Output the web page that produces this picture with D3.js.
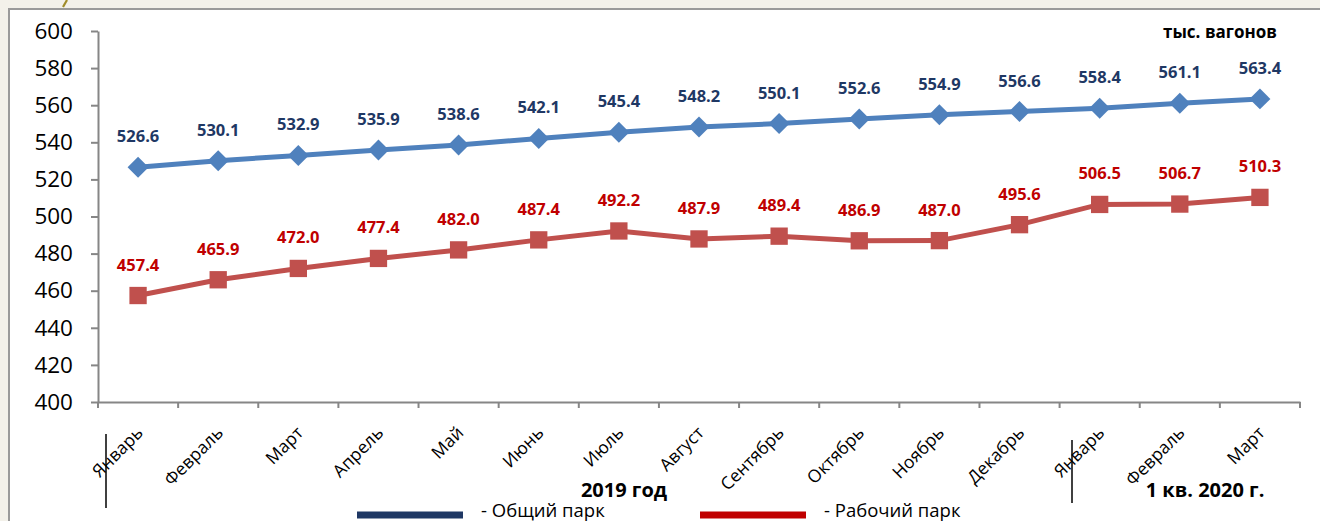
<!DOCTYPE html>
<html lang="ru">
<head>
<meta charset="UTF-8">
<title>Парк вагонов</title>
<script src="https://d3js.org/d3.v7.min.js"></script>
<style>
  body { margin: 0; background: #f3f1ea; }
  svg { display: block; }
</style>
</head>
<body>
<svg></svg>
<script>
  // подписи месяцев по оси X
  const months = ['Январь', 'Февраль', 'Март', 'Апрель', 'Май', 'Июнь', 'Июль', 'Август',
    'Сентябрь', 'Октябрь', 'Ноябрь', 'Декабрь', 'Январь', 'Февраль', 'Март']
  // общий парк, тыс. вагонов
  const totalPark = [526.6, 530.1, 532.9, 535.9, 538.6, 542.1, 545.4, 548.2,
    550.1, 552.6, 554.9, 556.6, 558.4, 561.1, 563.4]
  // рабочий парк, тыс. вагонов
  const workPark = [457.4, 465.9, 472.0, 477.4, 482.0, 487.4, 492.2, 487.9,
    489.4, 486.9, 487.0, 495.6, 506.5, 506.7, 510.3]
  const yTicks = [400, 420, 440, 460, 480, 500, 520, 540, 560, 580, 600]

  const width = 1320, height = 521
  const font = '"Open Sans", "Noto Sans", sans-serif'

  const svg = d3.select('svg')
    .attr('width', width)
    .attr('height', height)
    .style('font-family', font)

  // рамка
  svg.append('rect')
    .attr('x', 9).attr('y', 9)
    .attr('width', width).attr('height', height)
    .attr('fill', '#fff')
    .attr('stroke', '#9a9a9a')
    .attr('stroke-width', 2)
  // хвостик буквы заголовка сверху (обрезан)
  svg.append('path')
    .attr('d', 'M67,0 L63,7')
    .attr('stroke', '#a08c2a')
    .attr('stroke-width', 2.2)
    .attr('fill', 'none')

  const x = d3.scaleBand()
    .domain(d3.range(months.length))
    .range([98, 1300])
  const y = d3.scaleLinear()
    .domain([400, 600])
    .range([402, 31])
  const cx = i => x(i) + x.bandwidth() / 2

  // оси
  const yAxis = svg.append('g')
    .attr('transform', 'translate(98,0)')
    .call(d3.axisLeft(y).tickValues(yTicks).tickSize(7).tickSizeOuter(0).tickPadding(18))
  yAxis.selectAll('text')
    .attr('font-size', 22.5)
    .attr('fill', '#000')
    .attr('font-family', font)

  const xAxis = svg.append('g')
    .attr('transform', 'translate(0,402)')
    .call(d3.axisBottom(x).tickValues([]).tickSizeOuter(0))
  xAxis.selectAll('.xt')
    .data(d3.range(months.length + 1))
    .join('line')
    .attr('x1', i => 98 + i * x.step())
    .attr('x2', i => 98 + i * x.step())
    .attr('y1', 0).attr('y2', 6)
    .attr('stroke', '#868686').attr('stroke-width', 2)
  svg.selectAll('.domain, .tick line')
    .attr('stroke', '#868686')
    .attr('stroke-width', 2)

  svg.append('g')
    .selectAll('text')
    .data(months)
    .join('text')
    .attr('transform', (d, i) => `translate(${cx(i) + 6},434) rotate(-45)`)
    .attr('text-anchor', 'end')
    .attr('font-size', 17.5)
    .attr('fill', '#000')
    .text(d => d)

  // линии серий
  const line = d3.line()
    .x((d, i) => cx(i))
    .y(d => y(d))

  function drawSeries(data, color, labelColor, shape) {
    svg.append('path')
      .datum(data)
      .attr('d', line)
      .attr('fill', 'none')
      .attr('stroke', color)
      .attr('stroke-width', 5)
    svg.append('g')
      .selectAll('path')
      .data(data)
      .join('path')
      .attr('transform', (d, i) => `translate(${cx(i)},${y(d)})`)
      .attr('d', d3.symbol().type(shape).size(shape === d3.symbolSquare ? 300 : 280))
      .attr('fill', color)
    svg.append('g')
      .selectAll('text')
      .data(data)
      .join('text')
      .attr('x', (d, i) => cx(i))
      .attr('y', d => y(d) - 25)
      .attr('text-anchor', 'middle')
      .attr('font-size', 16.5)
      .attr('font-weight', 'bold')
      .attr('fill', labelColor)
      .text(d => d.toFixed(1))
  }

  drawSeries(totalPark, '#4f81bd', '#1f3864', d3.symbolDiamond2)
  drawSeries(workPark, '#c0504d', '#c00000', d3.symbolSquare)

  // подписи
  svg.append('text')
    .attr('x', 1220).attr('y', 38)
    .attr('text-anchor', 'middle')
    .attr('font-size', 17)
    .attr('font-weight', 'bold')
    .text('тыс. вагонов')

  svg.append('text')
    .attr('x', 624).attr('y', 497)
    .attr('text-anchor', 'middle')
    .attr('font-size', 20)
    .attr('font-weight', 'bold')
    .text('2019 год')
  svg.append('text')
    .attr('x', 1205).attr('y', 497)
    .attr('text-anchor', 'middle')
    .attr('font-size', 20)
    .attr('font-weight', 'bold')
    .text('1 кв. 2020 г.')

  svg.append('line')
    .attr('x1', 106).attr('x2', 106).attr('y1', 434).attr('y2', 508)
    .attr('stroke', '#000').attr('stroke-width', 1.5)
  svg.append('line')
    .attr('x1', 1072).attr('x2', 1072).attr('y1', 440).attr('y2', 503)
    .attr('stroke', '#000').attr('stroke-width', 1.5)

  // легенда
  const legend = [
    { name: '- Общий парк', color: '#1f3864', x: 357 },
    { name: '- Рабочий парк', color: '#c00000', x: 700 }
  ]
  const lg = svg.append('g')
    .selectAll('g')
    .data(legend)
    .join('g')
    .attr('transform', d => `translate(${d.x},515)`)
  lg.append('line')
    .attr('x1', 0).attr('x2', 106)
    .attr('stroke', d => d.color)
    .attr('stroke-width', 7)
  lg.append('text')
    .attr('x', 124).attr('y', 2)
    .attr('font-size', 18.5)
    .text(d => d.name)
</script>
</body>
</html>
